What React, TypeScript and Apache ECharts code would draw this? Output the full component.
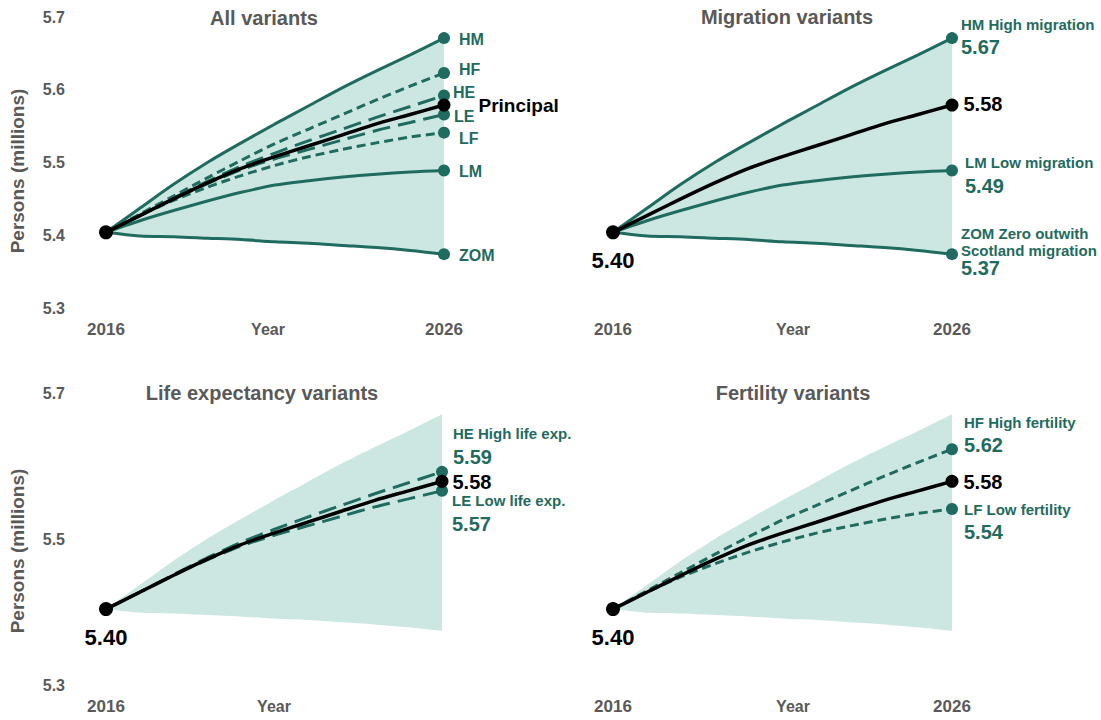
import React, { useEffect, useRef } from "react";
import * as echarts from "echarts";

// ---------- data ----------
const years = ["2016", "2017", "2018", "2019", "2020", "2021", "2022", "2023", "2024", "2025", "2026"];
const principal = [5.404, 5.427, 5.45, 5.472, 5.492, 5.508, 5.523, 5.538, 5.553, 5.566, 5.579];
const highMigration = [5.404, 5.437, 5.47, 5.5, 5.527, 5.553, 5.578, 5.603, 5.626, 5.648, 5.671];
const lowMigration = [5.404, 5.42, 5.434, 5.447, 5.459, 5.469, 5.475, 5.48, 5.484, 5.487, 5.489];
const zeroMigration = [5.404, 5.399, 5.398, 5.396, 5.394, 5.391, 5.389, 5.386, 5.383, 5.379, 5.374];
const highFertility = [5.404, 5.429, 5.454, 5.479, 5.503, 5.526, 5.546, 5.566, 5.586, 5.605, 5.623];
const lowFertility = [5.404, 5.427, 5.448, 5.466, 5.482, 5.496, 5.508, 5.518, 5.527, 5.535, 5.541];
const highLifeExp = [5.404, 5.427, 5.451, 5.474, 5.495, 5.513, 5.53, 5.546, 5.562, 5.577, 5.592];
const lowLifeExp = [5.404, 5.427, 5.45, 5.471, 5.49, 5.505, 5.518, 5.531, 5.544, 5.555, 5.566];

const variantCodes = ["HM", "HF", "HE", "LE", "LF", "LM", "ZOM"];
const migrationNames = ["HM High migration", "LM Low migration", "ZOM Zero outwith\nScotland migration"];
const lifeExpNames = ["HE High life exp.", "LE Low life exp."];
const fertilityNames = ["HF High fertility", "LF Low fertility"];
const panelTitles = ["All variants", "Migration variants", "Life expectancy variants", "Fertility variants"];
const yTicksFull = ["5.3", "5.4", "5.5", "5.6", "5.7"];
const yTicksSparse = ["5.3", "5.5", "5.7"];
const xLabelsBoth = ["2016", "2026"];
const xLabelsStart = ["2016"];
const yAxisTitle = "Persons (millions)";
const xAxisTitle = "Year";
const principalName = "Principal";

// ---------- styles ----------
const FONT = "'Liberation Sans', Arial, Helvetica, sans-serif";
const TEAL = "#1f6b5f";
const FILL = "#cce7e2";
const GRAY = "#595959";
const last = years.length - 1;
const SHORT_DASH = [9, 5];
const LONG_DASH = [18, 8];

const grids = [
  { left: 106, top: 17, width: 338, height: 291 },
  { left: 613, top: 17, width: 339, height: 291 },
  { left: 106, top: 393, width: 336, height: 292 },
  { left: 613, top: 393, width: 339, height: 292 },
];

function fmt2(v: number) {
  return v.toFixed(2);
}

function codeLabel(text: string, offset: number[]) {
  return {
    show: true,
    position: "right",
    distance: 5,
    offset,
    formatter: text,
    color: TEAL,
    fontSize: 16,
    fontWeight: "bold",
    fontFamily: FONT,
    align: "left",
  };
}

function richLabel(name: string, value: number, offset: number[], lh: number) {
  const lines = name.split("\n").map((s) => `{a|${s}}`);
  lines.push(`{b|${fmt2(value)}}`);
  return {
    show: true,
    position: "right",
    distance: 5,
    offset,
    formatter: lines.join("\n"),
    align: "left",
    rich: {
      a: { fontSize: 15, lineHeight: lh, fontWeight: "bold", color: TEAL, fontFamily: FONT, align: "left" },
      b: { fontSize: 20, lineHeight: lh === 20 ? 26 : 19, fontWeight: "bold", color: TEAL, fontFamily: FONT, align: "left" },
    },
  };
}

function valueLabel(text: string, offset: number[], size: number) {
  return {
    show: true,
    position: "right",
    distance: 5,
    offset,
    formatter: text,
    color: "#000",
    fontSize: size,
    fontWeight: "bold",
    fontFamily: FONT,
    align: "left",
  };
}

function bandSeries(p: number) {
  return [
    {
      type: "line",
      xAxisIndex: p,
      yAxisIndex: p,
      stack: "band" + p,
      smooth: 0.3,
      symbol: "none",
      lineStyle: { opacity: 0, width: 0 },
      emphasis: { disabled: true },
      silent: true,
      z: 1,
      data: zeroMigration,
    },
    {
      type: "line",
      xAxisIndex: p,
      yAxisIndex: p,
      stack: "band" + p,
      smooth: 0.3,
      symbol: "none",
      lineStyle: { opacity: 0, width: 0 },
      areaStyle: { color: FILL, opacity: 1 },
      emphasis: { disabled: true },
      silent: true,
      z: 1,
      data: highMigration.map((v, i) => +(v - zeroMigration[i]).toFixed(4)),
    },
  ];
}

function variantSeries(p: number, values: number[], dash: any, label: any) {
  return {
    type: "line",
    xAxisIndex: p,
    yAxisIndex: p,
    smooth: 0.3,
    showSymbol: true,
    showAllSymbol: true,
    symbol: "circle",
    z: 3,
    lineStyle: { color: TEAL, width: 3, type: dash, cap: "butt" },
    itemStyle: { color: TEAL },
    emphasis: { disabled: true },
    data: values.map((v, i) =>
      i === last ? { value: v, symbolSize: 12, label } : { value: v, symbol: "none" }
    ),
  };
}

function principalSeries(p: number, endLabel: any, showStart: boolean) {
  const startLabel = showStart
    ? {
        show: true,
        position: "bottom",
        distance: 10,
        formatter: fmt2(principal[0]),
        color: "#000",
        fontSize: 22,
        fontWeight: "bold",
        fontFamily: FONT,
      }
    : { show: false };
  return {
    type: "line",
    xAxisIndex: p,
    yAxisIndex: p,
    smooth: 0.3,
    showSymbol: true,
    showAllSymbol: true,
    symbol: "circle",
    z: 5,
    lineStyle: { color: "#000", width: 3.5 },
    itemStyle: { color: "#000" },
    emphasis: { disabled: true },
    data: principal.map((v, i) =>
      i === 0
        ? { value: v, symbolSize: 14, label: startLabel }
        : i === last
        ? { value: v, symbolSize: 13, label: endLabel }
        : { value: v, symbol: "none" }
    ),
  };
}

function xAxis(p: number, shown: string[], namePad: number[]) {
  return {
    type: "category",
    gridIndex: p,
    data: years,
    boundaryGap: false,
    axisLine: { show: false },
    axisTick: { show: false },
    splitLine: { show: false },
    axisLabel: {
      interval: (_i: number, v: string) => shown.includes(v),
      margin: 13,
      fontSize: 17,
      fontWeight: "bold",
      color: GRAY,
      fontFamily: FONT,
    },
    name: xAxisTitle,
    nameLocation: "middle",
    nameGap: 13,
    nameMoveOverlap: false,
    nameTextStyle: { fontSize: 16, fontWeight: "bold", color: GRAY, fontFamily: FONT, padding: namePad },
  };
}

function yAxis(p: number, ticks: string[] | null) {
  return {
    type: "value",
    gridIndex: p,
    min: 5.3,
    max: 5.7,
    interval: 0.1,
    show: ticks !== null,
    axisLine: { show: false },
    axisTick: { show: false },
    splitLine: { show: false },
    axisLabel: {
      show: ticks !== null,
      margin: 41,
      fontSize: 16,
      fontWeight: "bold",
      color: GRAY,
      fontFamily: FONT,
      formatter: (v: number) => {
        const s = v.toFixed(1);
        return ticks && ticks.includes(s) ? s : "";
      },
    },
  };
}

function textEl(text: string, x: number, y: number, size: number, rotation = 0) {
  return {
    type: "text",
    x,
    y,
    rotation,
    silent: true,
    style: {
      text,
      fill: GRAY,
      font: `bold ${size}px ${FONT}`,
      textAlign: "center",
      textVerticalAlign: "middle",
      align: "center",
      verticalAlign: "middle",
    },
  };
}

function buildOption() {
  const [cHM, cHF, cHE, cLE, cLF, cLM, cZOM] = variantCodes;
  const series: any[] = [
    // Panel 0: all variants
    ...bandSeries(0),
    variantSeries(0, highMigration, "solid", codeLabel(cHM, [4, 1])),
    variantSeries(0, lowMigration, "solid", codeLabel(cLM, [4, 1])),
    variantSeries(0, zeroMigration, "solid", codeLabel(cZOM, [4, 1])),
    variantSeries(0, highFertility, SHORT_DASH, codeLabel(cHF, [4, -4])),
    variantSeries(0, lowFertility, SHORT_DASH, codeLabel(cLF, [4, 6])),
    variantSeries(0, highLifeExp, LONG_DASH, codeLabel(cHE, [-2, -3])),
    variantSeries(0, lowLifeExp, LONG_DASH, codeLabel(cLE, [-1, 2])),
    principalSeries(0, valueLabel(principalName, [23, 0], 19), false),
    // Panel 1: migration
    ...bandSeries(1),
    variantSeries(1, highMigration, "solid", richLabel(migrationNames[0], highMigration[last], [-2, -1], 20)),
    variantSeries(1, lowMigration, "solid", richLabel(migrationNames[1], lowMigration[last], [2, 5], 20)),
    variantSeries(1, zeroMigration, "solid", richLabel(migrationNames[2], zeroMigration[last], [-2, -3], 17)),
    principalSeries(1, valueLabel(fmt2(principal[last]), [0, -1], 20), true),
    // Panel 2: life expectancy
    ...bandSeries(2),
    variantSeries(2, highLifeExp, LONG_DASH, richLabel(lifeExpNames[0], highLifeExp[last], [0, -25], 20)),
    variantSeries(2, lowLifeExp, LONG_DASH, richLabel(lifeExpNames[1], lowLifeExp[last], [-1, 23], 20)),
    principalSeries(2, valueLabel(fmt2(principal[last]), [-1, 1], 20), true),
    // Panel 3: fertility
    ...bandSeries(3),
    variantSeries(3, highFertility, SHORT_DASH, richLabel(fertilityNames[0], highFertility[last], [1, -14], 20)),
    variantSeries(3, lowFertility, SHORT_DASH, richLabel(fertilityNames[1], lowFertility[last], [1, 13], 20)),
    principalSeries(3, valueLabel(fmt2(principal[last]), [0, 1], 20), true),
  ];

  return {
    animation: false,
    backgroundColor: "#ffffff",
    textStyle: { fontFamily: FONT },
    grid: grids.map((g) => ({ ...g, containLabel: false, outerBoundsMode: "none" })),
    xAxis: [
      xAxis(0, xLabelsBoth, [0, 14, 0, 0]),
      xAxis(1, xLabelsBoth, [0, 0, 0, 21]),
      xAxis(2, xLabelsStart, [0, 0, 0, 0]),
      xAxis(3, xLabelsBoth, [0, 0, 0, 21]),
    ],
    yAxis: [yAxis(0, yTicksFull), yAxis(1, null), yAxis(2, yTicksSparse), yAxis(3, null)],
    graphic: [
      textEl(panelTitles[0], 264, 18, 20),
      textEl(panelTitles[1], 787, 17, 20),
      textEl(panelTitles[2], 262, 393, 20),
      textEl(panelTitles[3], 793, 393, 20),
      textEl(yAxisTitle, 17, 171, 19, Math.PI / 2),
      textEl(yAxisTitle, 17, 551, 19, Math.PI / 2),
    ],
    series,
  };
}

export default function App() {
  const ref = useRef<HTMLDivElement>(null);
  useEffect(() => {
    if (!ref.current) return;
    const chart = echarts.init(ref.current, null, { renderer: "svg" });
    chart.setOption(buildOption() as any);
    return () => chart.dispose();
  }, []);
  return (
    <div
      ref={ref}
      style={{ position: "absolute", left: 0, top: 0, width: 1101, height: 720, background: "#fff" }}
    />
  );
}
